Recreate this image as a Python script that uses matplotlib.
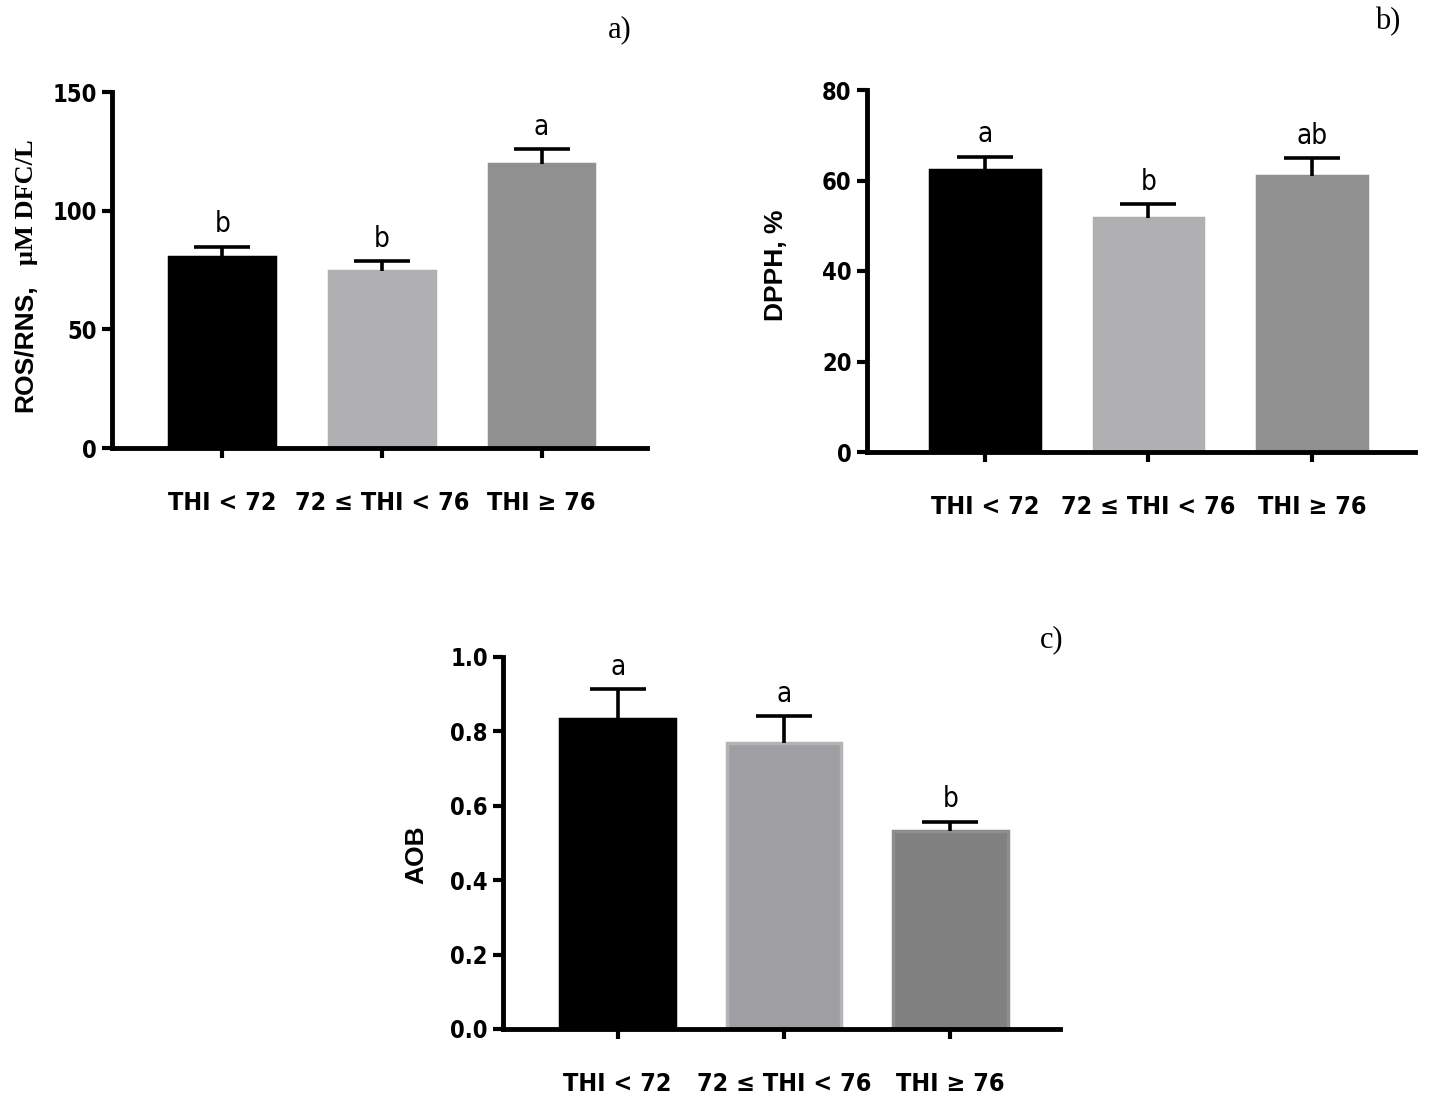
import matplotlib
matplotlib.use("Agg")
import matplotlib.pyplot as plt

categories = ["THI < 72", "72 ≤ THI < 76", "THI ≥ 76"]

ros_mean = [80.5, 74.5, 119.8]
ros_err = [4.4, 4.3, 6.2]
ros_letters = ["b", "b", "a"]

dpph_mean = [62.4, 51.7, 60.9]
dpph_err = [2.9, 3.0, 4.1]
dpph_letters = ["a", "b", "ab"]

aob_mean = [0.833, 0.770, 0.532]
aob_err = [0.080, 0.071, 0.025]
aob_letters = ["a", "a", "b"]

ros_ticks = [0, 50, 100, 150]
dpph_ticks = [0, 20, 40, 60, 80]
aob_ticks = [0.0, 0.2, 0.4, 0.6, 0.8, 1.0]

W, H = 1429, 1097
fig = plt.figure(figsize=(W / 100, H / 100), dpi=100)

COND = dict(family=["DejaVu Sans"], stretch="condensed")


def px_axes(l, r, b, t):
    return [l / W, 1 - b / H, (r - l) / W, (b - t) / H]


def panel(rect, means, errs, letters, ticks, ylim, xlim, width, fills, edges, ticklabels):
    ax = fig.add_axes(rect)
    x = list(range(len(means)))
    ax.bar(x, means, width=width, color=fills, edgecolor=edges, linewidth=2.5, zorder=2)
    _, caps, _ = ax.errorbar(x, means, yerr=[[0] * len(errs), errs], fmt="none",
                             ecolor="black", elinewidth=2.6, capsize=20, capthick=2.6,
                             zorder=3)
    for c in caps:
        if list(c.get_ydata()) == list(means):
            c.set_visible(False)
    for xi, m, e, lt in zip(x, means, errs, letters):
        ax.annotate(lt, (xi, m + e), xytext=(0, 6), textcoords="offset points",
                    ha="center", va="bottom", fontsize=20, **COND)
    ax.set_xlim(*xlim)
    ax.set_ylim(*ylim)
    ax.set_yticks(ticks)
    ax.set_yticklabels(ticklabels, fontsize=17, fontweight="bold", **COND)
    ax.set_xticks(x)
    ax.set_xticklabels(categories, fontsize=18, fontweight="bold", **COND)
    for s in ["top", "right"]:
        ax.spines[s].set_visible(False)
    for s in ["left", "bottom"]:
        ax.spines[s].set_linewidth(3.5)
        ax.spines[s].set_capstyle("projecting")
    ax.tick_params(axis="y", length=7, width=3, pad=4)
    ax.tick_params(axis="x", length=7, width=3, pad=24)
    return ax


gray_a = ["#000000", "#b0b0b2", "#909090"]
gray_c = ["#000000", "#9f9fa3", "#808080"]
edge_c = ["#000000", "#b4b4b6", "#8e8e8e"]

panel(px_axes(112, 647, 448, 92), ros_mean, ros_err, ros_letters, ros_ticks, (0, 150),
      (-0.69, 2.66), 0.66, gray_a, gray_a, [str(t) for t in ros_ticks])
panel(px_axes(867, 1415, 452, 90), dpph_mean, dpph_err, dpph_letters, dpph_ticks, (0, 80),
      (-0.72, 2.63), 0.67, gray_a, gray_a, [str(t) for t in dpph_ticks])
panel(px_axes(503, 1060, 1029, 657), aob_mean, aob_err, aob_letters, aob_ticks, (0, 1.0),
      (-0.69, 2.66), 0.69, gray_c, edge_c, [f"{t:.1f}" for t in aob_ticks])

# y labels
fig.text(25 / W, 1 - 348 / H, "ROS/RNS,", rotation=90, ha="center", va="center",
         fontsize=19, fontweight="bold", family="Liberation Sans")
fig.text(27 / W, 1 - 202 / H, "μM DFC/L", rotation=90, ha="center", va="center",
         fontsize=19, fontweight="bold", family="Liberation Serif")
fig.text(776 / W, 1 - 265 / H, "DPPH, %", rotation=90, ha="center", va="center",
         fontsize=19, fontweight="bold", family="Liberation Sans")
fig.text(416 / W, 1 - 855 / H, "AOB", rotation=90, ha="center", va="center",
         fontsize=19, fontweight="bold", family="Liberation Sans")

# panel letters
for lab, px, py in [("a)", 620, 30), ("b)", 1388, 22), ("c)", 1052, 640)]:
    fig.text(px / W, 1 - py / H, lab, ha="center", va="center", fontsize=22,
             family="Liberation Serif")

fig.savefig("out.png", dpi=100, facecolor="white")
